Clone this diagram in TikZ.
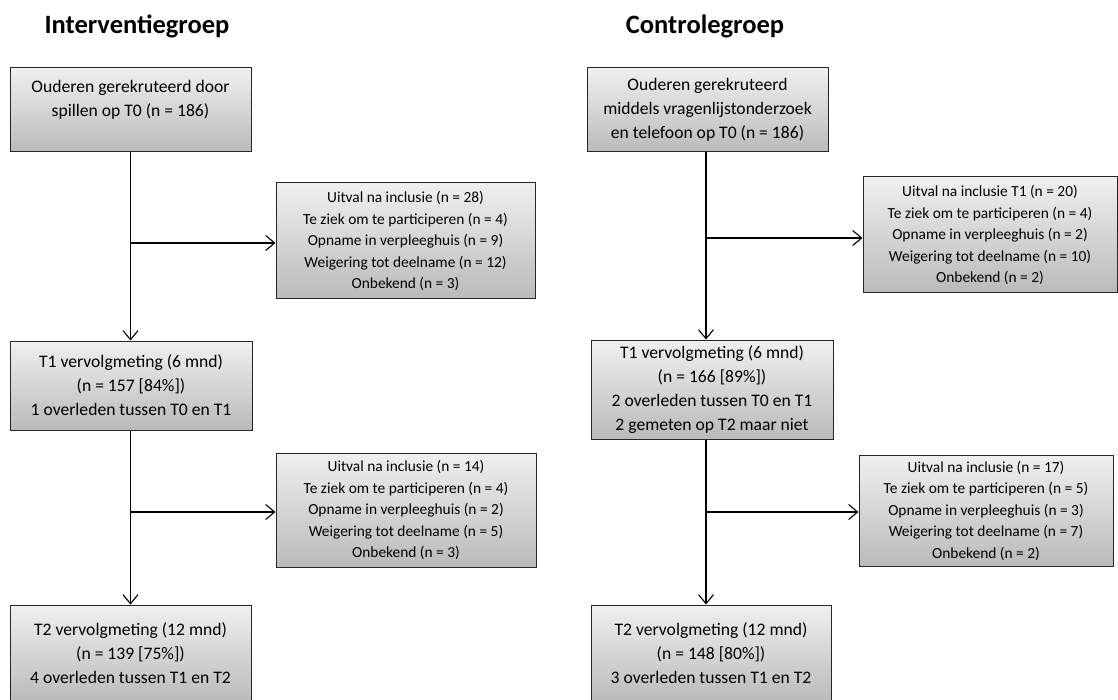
\documentclass[tikz,border=0pt]{standalone}
\usepackage{fontspec}
\setmainfont{Carlito}
\usetikzlibrary{arrows.meta}

\tikzset{
  flowbox/.style={draw=black!85, line width=1pt, top color=black!6, bottom color=black!27,
    align=center, inner sep=0pt, font=\fontsize{17.6}{24}\selectfont},
  dropbox/.style={draw=black!85, line width=1pt, top color=black!6, bottom color=black!27,
    align=center, inner sep=0pt, font=\fontsize{15.4}{21.5}\selectfont},
  grouptitle/.style={font=\fontsize{26.5}{30}\selectfont\bfseries},
  flowline/.style={line width=1.1pt, -{Straight Barb[length=9pt,width=15pt,line width=1.1pt]}},
}

\begin{document}
\begin{tikzpicture}[x=1pt,y=-1pt]
\clip (0,0) rectangle (1118,700);

% titles
\node[grouptitle] (tl) at (137,26) {Interventiegroep};
\node[grouptitle] (tr) at (705,26) {Controlegroep};

% interventiegroep
\node[flowbox, minimum width=241, minimum height=84] (A1) at (130.5,110)
  {Ouderen gerekruteerd door\\spillen op T0 (n = 186)\\\mbox{}};
\node[dropbox, minimum width=259, minimum height=116] (L1) at (405.5,241)
  {Uitval na inclusie (n = 28)\\Te ziek om te participeren (n = 4)\\Opname in verpleeghuis (n = 9)\\Weigering tot deelname (n = 12)\\Onbekend (n = 3)};
\node[flowbox, minimum width=242, minimum height=89] (B1) at (131,385.5)
  {T1 vervolgmeting (6 mnd)\\(n = 157 [84\%])\\1 overleden tussen T0 en T1};
\node[dropbox, minimum width=260, minimum height=114] (L2) at (406,510)
  {Uitval na inclusie (n = 14)\\Te ziek om te participeren (n = 4)\\Opname in verpleeghuis (n = 2)\\Weigering tot deelname (n = 5)\\Onbekend (n = 3)};
\node[flowbox, minimum width=241, minimum height=97] (C1) at (130.5,653.5)
  {T2 vervolgmeting (12 mnd)\\(n = 139 [75\%])\\4 overleden tussen T1 en T2};

% controlegroep
\node[flowbox, minimum width=241, minimum height=84] (A2) at (707.5,110)
  {Ouderen gerekruteerd\\middels vragenlijstonderzoek\\en telefoon op T0 (n = 186)};
\node[dropbox, minimum width=254, minimum height=116] (R1) at (990,235)
  {Uitval na inclusie T1 (n = 20)\\Te ziek om te participeren (n = 4)\\Opname in verpleeghuis (n = 2)\\Weigering tot deelname (n = 10)\\Onbekend (n = 2)};
\node[flowbox, minimum width=242, minimum height=99] (B2) at (712,389.5)
  {T1 vervolgmeting (6 mnd)\\(n = 166 [89\%])\\2 overleden tussen T0 en T1\\2 gemeten op T2 maar niet};
\node[dropbox, minimum width=254, minimum height=111] (R2) at (986,510.5)
  {Uitval na inclusie (n = 17)\\Te ziek om te participeren (n = 5)\\Opname in verpleeghuis (n = 3)\\Weigering tot deelname (n = 7)\\Onbekend (n = 2)};
\node[flowbox, minimum width=240, minimum height=97] (C2) at (711,653.5)
  {T2 vervolgmeting (12 mnd)\\(n = 148 [80\%])\\3 overleden tussen T1 en T2};

% vertical lines of both columns
\coordinate (lx) at (130.5,0);
\coordinate (rx) at (706,0);

% connectors left
\draw[flowline] (A1.south -| lx) -- (B1.north -| lx);
\draw[flowline] (lx |- 0,243) -- (L1.west |- 0,243);
\draw[flowline] (B1.south -| lx) -- (C1.north -| lx);
\draw[flowline] (lx |- 0,512) -- (L2.west |- 0,512);

% connectors right
\draw[flowline] (A2.south -| rx) -- (B2.north -| rx);
\draw[flowline] (rx |- 0,238) -- (R1.west |- 0,238);
\draw[flowline] (B2.south -| rx) -- (C2.north -| rx);
\draw[flowline] (rx |- 0,512) -- (R2.west |- 0,512);

\end{tikzpicture}
\end{document}
